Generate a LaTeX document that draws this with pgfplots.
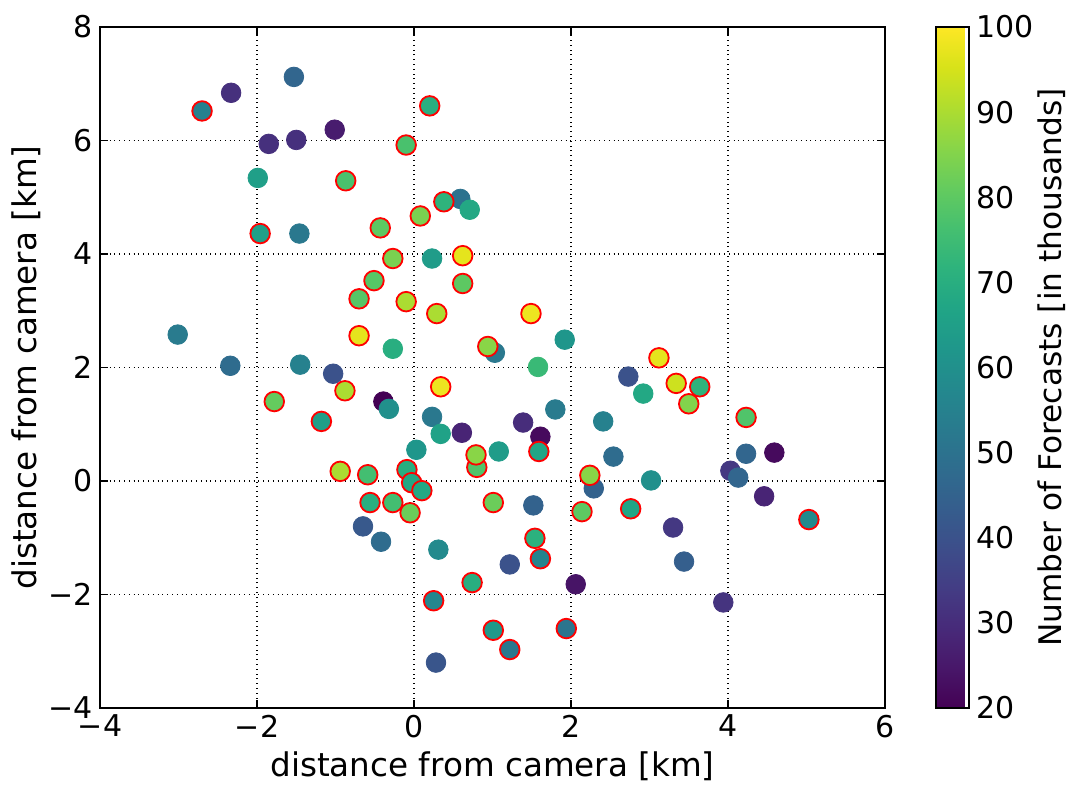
\documentclass[border=0pt]{standalone}
\usepackage{fontspec}
\setmainfont{DejaVu Sans}
\usepackage{pgfplots}
\usepackage{pgfplotstable}
\pgfplotsset{compat=1.18}
\pgfplotstableread{
x y v
-1.53 7.12 46
-2.33 6.84 31
-1.85 5.94 31
-1.50 6.01 31
-1.01 6.19 26
-1.99 5.34 65
-1.46 4.36 52
0.59 4.97 50
0.71 4.78 68
0.23 3.92 64
-0.27 2.33 70
-3.01 2.58 53
-2.34 2.03 48
-1.45 2.05 55
-1.03 1.89 40
-0.39 1.40 20
-0.32 1.27 60
0.23 1.13 52
0.34 0.83 66
0.61 0.85 28
0.03 0.55 62
1.03 2.26 52
1.92 2.49 62
1.58 2.01 74
1.80 1.26 53
1.39 1.03 30
1.61 0.78 22
1.08 0.52 64
2.41 1.05 55
2.54 0.43 48
2.73 1.84 40
2.92 1.54 68
4.03 0.18 33
4.13 0.06 46
4.23 0.48 46
4.59 0.50 22
2.29 -0.13 45
3.02 0.01 60
4.46 -0.27 28
3.30 -0.82 33
3.44 -1.42 44
3.94 -2.14 32
1.52 -0.43 45
1.22 -1.47 40
2.06 -1.82 24
-0.65 -0.80 42
-0.42 -1.07 48
0.31 -1.21 58
0.28 -3.20 41
}\plain
\pgfplotstableread{
x y v
-2.70 6.52 55
0.20 6.61 70
-0.10 5.92 77
-0.87 5.29 77
-1.96 4.36 65
-0.43 4.46 80
0.08 4.67 84
0.38 4.92 72
-0.27 3.92 84
0.62 3.97 97
-0.51 3.53 79
-0.70 3.21 79
-0.10 3.16 90
0.29 2.95 90
0.62 3.48 80
-0.70 2.56 97
-0.88 1.59 90
-1.78 1.40 81
-1.18 1.05 65
0.34 1.66 98
0.94 2.37 86
1.49 2.95 98
1.59 0.52 67
3.12 2.17 97
3.34 1.72 94
3.64 1.66 72
3.50 1.36 85
4.23 1.12 78
2.24 0.10 86
5.03 -0.68 58
2.76 -0.49 67
2.14 -0.54 80
1.01 -0.38 82
1.54 -1.01 71
1.61 -1.37 56
1.94 -2.60 51
1.22 -2.97 52
1.01 -2.63 63
-0.94 0.17 90
-0.59 0.11 76
-0.09 0.20 70
-0.03 -0.03 68
0.10 -0.17 68
0.80 0.24 78
0.79 0.46 86
-0.56 -0.38 70
-0.27 -0.38 76
-0.05 -0.56 82
0.74 -1.79 70
0.25 -2.11 57
}\redpts
\begin{document}
\begin{tikzpicture}[font=\fontsize{15}{18}\selectfont]
\useasboundingbox (-50pt,-38.5pt) rectangle (485pt,354pt);
\begin{axis}[
  at={(0,0)}, anchor=south west,
  width=392.5pt, height=340.5pt, scale only axis,
  xmin=-4, xmax=6, ymin=-4, ymax=8,
  xtick={-4,-2,0,2,4,6}, ytick={-4,-2,0,2,4,6,8},
  xticklabels={−4,−2,0,2,4,6}, yticklabels={−4,−2,0,2,4,6,8},
  grid=major, grid style={dotted, black, line width=0.6pt},
  axis line style={line width=1pt},
  tick style={black, line width=0.8pt}, major tick length=4pt,
  xlabel={distance from camera [km]}, ylabel={distance from camera [km]},
  label style={font=\fontsize{16.3}{19}\selectfont},
  every axis y label/.append style={at={([xshift=3pt]ticklabel cs:0.5)}},
  colormap/viridis, point meta min=20, point meta max=100,
  colorbar,
  colorbar shift/.style={xshift=17.5pt},
  colorbar style={
    width=16.5pt,
    ytick={20,30,40,50,60,70,80,90,100},
    yticklabels={20,30,40,50,60,70,80,90,100},
    major tick length=0pt,
    axis line style={line width=1pt},
    ylabel={Number of Forecasts [in thousands]},
    every axis y label/.style={at={([xshift=33pt]axis description cs:1,0.5)}, rotate=90, anchor=north, inner sep=1pt, font=\fontsize{15.6}{18}\selectfont},
  },
]
\addplot[scatter, only marks, mark=*, mark size=4.9pt, point meta=explicit,
  scatter/use mapped color={draw=mapped color, fill=mapped color}]
  table[x=x, y=y, meta=v]{\plain};
\addplot[scatter, only marks, mark=*, mark size=4.9pt, point meta=explicit,
  mark options={line width=0.9pt},
  scatter/use mapped color={draw=red, fill=mapped color}]
  table[x=x, y=y, meta=v]{\redpts};
\end{axis}
\end{tikzpicture}
\end{document}
